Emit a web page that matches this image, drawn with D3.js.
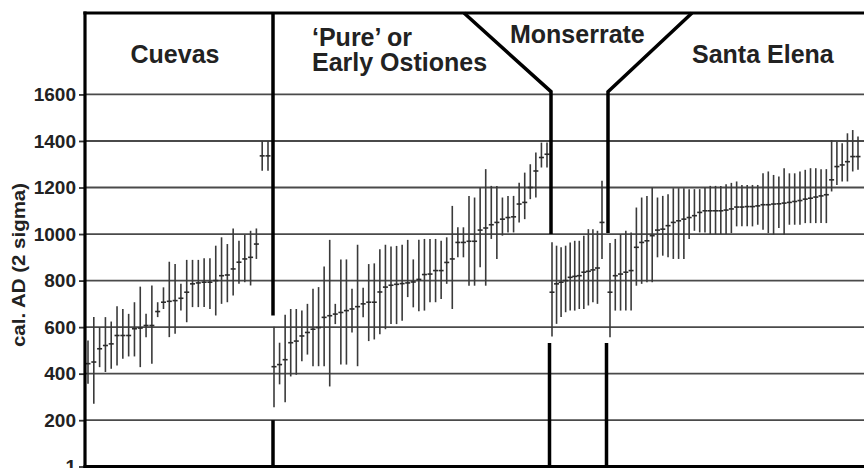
<!DOCTYPE html>
<html><head><meta charset="utf-8">
<script src="https://cdn.jsdelivr.net/npm/d3@7"></script>
<style>body{margin:0;background:#fff}svg{display:block}</style>
</head><body>
<script>
// ---- data: [low, mid, high] cal. AD (2 sigma) ----
const cuevas = [
[357,443,543],[271,450,643],[428,507,600],[407,521,643],[421,528,624],[435,564,690],
[464,564,678],[474,564,657],[474,593,707],[428,596,774],[557,607,657],[443,607,779],
[643,667,707],[678,707,771],[557,711,881],[571,714,871],[671,724,786],[621,750,889],
[686,786,889],[686,790,889],[686,793,896],[678,793,896],[650,800,950],[700,821,986],
[707,824,957],[736,850,1024],[786,879,971],[793,893,996],[779,900,1014],[893,957,1024],
[1272,1336,1400],[1272,1336,1400]];
const pure = [
[256,430,602],[354,439,533],[277,460,653],[388,533,678],[395,540,678],[453,562,671],
[482,577,700],[432,591,765],[432,598,772],[432,642,860],[345,649,975],[613,656,700],
[439,663,891],[439,671,891],[577,678,765],[432,688,954],[642,700,769],[540,707,871],
[547,707,874],[569,751,935],[591,772,954],[613,780,946],[613,784,949],[627,787,954],
[729,790,975],[685,794,891],[668,805,975],[671,826,979],[707,828,979],[707,843,979],
[721,843,971],[786,878,986],[678,893,1121],[900,964,1029],[900,964,1029],[778,969,1164],
[778,969,1157],[857,1017,1200],[778,1026,1279],[979,1040,1207],[893,1050,1207],[993,1064,1157],
[1007,1071,1164],[1007,1074,1164],[1050,1129,1221],[1064,1136,1264],[1150,1200,1300],
[1157,1271,1350],[1286,1329,1393],[1286,1343,1393]];
const monserrate = [
[560,750,965],[614,786,950],[643,793,943],[664,800,950],[671,814,964],[671,818,971],
[678,821,971],[678,836,993],[693,840,1021],[707,846,1021],[700,854,1014],[893,1050,1229]];
const santaElena = [
[556,750,962],[671,821,979],[671,828,1000],[671,836,1014],[671,843,1007],[778,943,1114],
[786,964,1157],[793,971,1164],[793,993,1200],[900,1017,1157],[907,1021,1164],[900,1036,1171],
[893,1050,1197],[893,1057,1197],[893,1064,1197],[979,1071,1193],[1014,1079,1193],[1007,1093,1193],
[1007,1100,1200],[1000,1100,1207],[1000,1100,1207],[1000,1100,1207],[1000,1103,1214],[1004,1108,1220],
[1033,1116,1226],[1033,1116,1211],[1033,1118,1211],[1033,1118,1211],[1040,1121,1211],[1018,1126,1261],
[1004,1126,1269],[997,1129,1254],[1026,1130,1247],[997,1133,1283],[1040,1136,1261],[1040,1140,1261],
[1040,1144,1269],[1047,1150,1276],[1047,1154,1283],[1047,1159,1283],[1047,1164,1279],[1047,1169,1279],
[1183,1233,1404],[1211,1290,1397],[1226,1297,1390],[1226,1311,1433],[1269,1333,1447],[1276,1333,1419]];
const tickValues = [1,200,400,600,800,1000,1200,1400,1600];
const phaseNames = ["Cuevas", ["\u2018Pure\u2019 or","Early Ostiones"], "Monserrate", "Santa Elena"];
const yTitle = "cal. AD (2 sigma)";

(function () {
// ---- layout ----
const W = 864, H = 468, left = 85, topY = 13, bottom = 466.5;
const svg = d3.select("body").append("svg").attr("width", W).attr("height", H)
  .style("font-family", "'Liberation Sans', Arial, Helvetica, sans-serif");

const y = d3.scaleLinear().domain([1, 1950]).range([bottom, topY]);

// grid lines
svg.append("g").selectAll("line").data(tickValues.slice(1)).join("line")
  .attr("x1", left).attr("x2", W).attr("y1", d => y(d)).attr("y2", d => y(d))
  .attr("stroke", "#4a4a4a").attr("stroke-width", 1.8);

// y axis
const ax = svg.append("g").attr("transform", `translate(${left},0)`)
  .call(d3.axisLeft(y).tickValues(tickValues).tickSize(6).tickPadding(3).tickFormat(d3.format("d")));
ax.select(".domain").remove();
ax.selectAll(".tick line").attr("stroke", "#333").attr("stroke-width", 1.8);
ax.selectAll(".tick text").attr("fill", "#222").attr("font-size", 19).attr("font-weight", "bold")
  .attr("font-family", "'Liberation Sans', Arial, sans-serif");

svg.append("text").attr("transform", "translate(25,265) rotate(-90)")
  .attr("text-anchor", "middle").attr("font-size", 18).attr("font-weight", "bold").attr("fill", "#222")
  .attr("textLength", 164).attr("lengthAdjust", "spacingAndGlyphs").text(yTitle);

// groups
const groups = [
  {data: cuevas, x0: 88, x1: 268},
  {data: pure, x0: 274, x1: 547},
  {data: monserrate, x0: 552, x1: 602},
  {data: santaElena, x0: 610, x1: 858}
];
groups.forEach(g => {
  const xs = d3.scaleLinear().domain([0, g.data.length - 1]).range([g.x0, g.x1]);
  const gg = svg.append("g");
  gg.selectAll("line.bar").data(g.data).join("line").attr("class", "bar")
    .attr("x1", (d, i) => xs(i)).attr("x2", (d, i) => xs(i))
    .attr("y1", d => y(d[2])).attr("y2", d => y(d[0]))
    .attr("stroke", "#3a3a3a").attr("stroke-width", 1.6);
  gg.selectAll("line.mid").data(g.data).join("line").attr("class", "mid")
    .attr("x1", (d, i) => xs(i) - 2.5).attr("x2", (d, i) => xs(i) + 2.5)
    .attr("y1", d => y(d[1])).attr("y2", d => y(d[1]))
    .attr("stroke", "#2a2a2a").attr("stroke-width", 1.6);
});

// frame
const frame = svg.append("g").attr("stroke", "#000").attr("fill", "none").attr("stroke-linecap", "square");
frame.append("line").attr("x1", left).attr("x2", W + 5).attr("y1", topY).attr("y2", topY).attr("stroke-width", 3.2);
frame.append("line").attr("x1", left).attr("x2", left).attr("y1", topY).attr("y2", H + 5).attr("stroke-width", 3.2);
frame.append("line").attr("x1", left).attr("x2", W + 5).attr("y1", bottom).attr("y2", bottom).attr("stroke-width", 3);

// phase dividers
const line = d3.line();
const dv = svg.append("g").attr("stroke", "#000").attr("fill", "none").attr("stroke-width", 3.5);
dv.append("path").attr("d", line([[273, y(1950)], [273, y(650)]]));
dv.append("path").attr("d", line([[273, y(200)], [273, H + 5]]));
dv.append("path").attr("d", line([[464, y(1950)], [551, y(1612)], [551, y(1000)]])).attr("stroke-linejoin", "miter");
dv.append("path").attr("d", line([[549.5, y(532)], [549.5, H + 5]]));
dv.append("path").attr("d", line([[692, y(1950)], [608, y(1612)], [608, y(1005)]])).attr("stroke-linejoin", "miter");
dv.append("path").attr("d", line([[606.5, y(532)], [606.5, H + 5]]));

// phase labels
const lab = svg.append("g").attr("font-size", 25).attr("font-weight", "bold").attr("fill", "#222");
lab.append("text").attr("x", 175).attr("y", 63).attr("text-anchor", "middle").text(phaseNames[0]);
lab.append("text").attr("x", 312).attr("y", 46).text(phaseNames[1][0]);
lab.append("text").attr("x", 312).attr("y", 71).text(phaseNames[1][1]);
lab.append("text").attr("x", 510).attr("y", 43).text(phaseNames[2]);
lab.append("text").attr("x", 692).attr("y", 63).text(phaseNames[3]);
})();
</script>
</body></html>
